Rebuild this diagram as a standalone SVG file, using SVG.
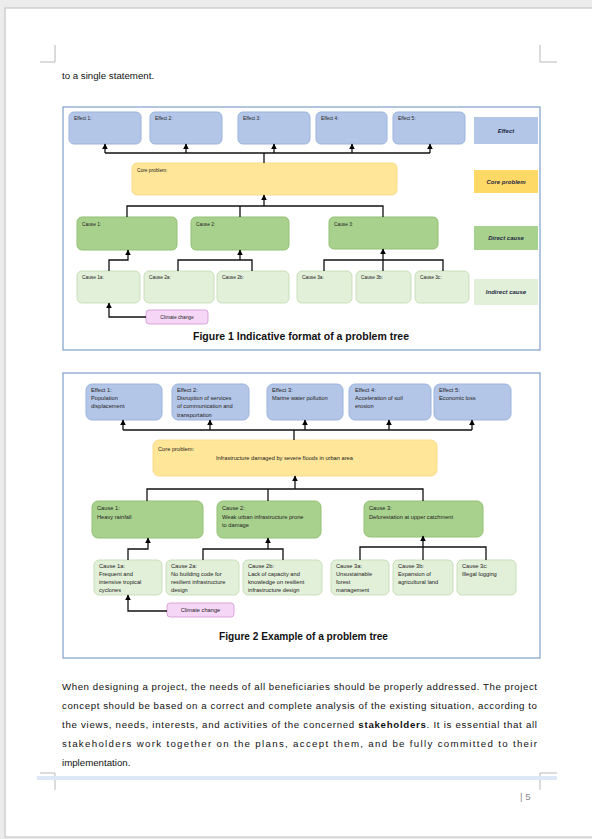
<svg xmlns="http://www.w3.org/2000/svg" width="592" height="839" viewBox="0 0 592 839">
<defs>
<marker id="ah" viewBox="0 0 10 10" refX="9" refY="5" markerWidth="4.4" markerHeight="4.4" orient="auto-start-reverse">
<path d="M0,0 L10,5 L0,10 z" fill="#000"/>
</marker>
<style>
.pg{fill:#fff;stroke:#d0d0d0;stroke-width:1.5}
.frame{fill:#fff;stroke:#7f9fc8;stroke-width:1.2}
.eff{fill:#b4c6e7;stroke:#9bb3db;stroke-width:1}
.core{fill:#ffe699;stroke:#fbdc8a;stroke-width:1}
.dir{fill:#a9d18e;stroke:#93c074;stroke-width:1}
.ind{fill:#e2efd9;stroke:#c9dfba;stroke-width:1}
.cc{fill:#f6d6f6;stroke:#d9a6d9;stroke-width:1}
.c{fill:none;stroke:#111;stroke-width:1.3}
.a{fill:none;stroke:#111;stroke-width:1.3;marker-end:url(#ah)}
.t1{font-family:"Liberation Sans",Arial,sans-serif;font-size:4.8px;fill:#222}
.t2{font-family:"Liberation Sans",Arial,sans-serif;font-size:5.7px;fill:#222}
.lg{font-family:"Liberation Sans",Arial,sans-serif;font-size:6px;font-weight:bold;font-style:italic;fill:#1f2a44;text-anchor:middle}
.cap{font-family:"Liberation Sans",Arial,sans-serif;font-size:10px;font-weight:bold;fill:#111}
.body{font-family:"Liberation Sans",Arial,sans-serif;font-size:9.7px;fill:#111}
.mk{fill:none;stroke:#b8b8b8;stroke-width:1}
</style>
</defs>
<rect x="0" y="0" width="592" height="839" fill="#ececec"/>
<rect class="pg" x="5" y="8" width="590" height="829"/>
<path class="mk" d="M40,62 H55 V45 M540,45 V62 H557 M40,773 H55 V790 M540,790 V773 H557"/>
<rect x="37" y="776" width="520" height="4" fill="#dce8f5"/>
<text class="body" x="520" y="800" style="fill:#888">| 5</text>
<text class="body" x="62" y="79">to a single statement.</text>

<!-- Figure 1 -->
<rect class="frame" x="63" y="107" width="477" height="243"/>
<g id="f1-e1"><rect class="eff" x="69" y="112" width="72" height="32" rx="5"/><text class="t1" x="74" y="120">Effect 1:</text></g>
<g id="f1-e2"><rect class="eff" x="150" y="112" width="72" height="32" rx="5"/><text class="t1" x="155" y="120">Effect 2:</text></g>
<g id="f1-e3"><rect class="eff" x="238" y="112" width="72" height="32" rx="5"/><text class="t1" x="243" y="120">Effect 3:</text></g>
<g id="f1-e4"><rect class="eff" x="316" y="112" width="71" height="32" rx="5"/><text class="t1" x="321" y="120">Effect 4:</text></g>
<g id="f1-e5"><rect class="eff" x="393" y="112" width="72" height="32" rx="5"/><text class="t1" x="398" y="120">Effect 5:</text></g>
<g id="f1-core"><rect class="core" x="132" y="163" width="265" height="32" rx="5"/><text class="t1" x="137" y="172">Core problem:</text></g>
<g id="f1-c1"><rect class="dir" x="77" y="217" width="100" height="33" rx="5"/><text class="t1" x="82" y="226">Cause 1:</text></g>
<g id="f1-c2"><rect class="dir" x="191" y="217" width="98" height="33" rx="5"/><text class="t1" x="196" y="226">Cause 2:</text></g>
<g id="f1-c3"><rect class="dir" x="329" y="217" width="109" height="32" rx="5"/><text class="t1" x="334" y="226">Cause 3:</text></g>
<g id="f1-c1a"><rect class="ind" x="77" y="271" width="63" height="32" rx="5"/><text class="t1" x="82" y="279">Cause 1a:</text></g>
<g id="f1-c2a"><rect class="ind" x="144" y="271" width="70" height="32" rx="5"/><text class="t1" x="149" y="279">Cause 2a:</text></g>
<g id="f1-c2b"><rect class="ind" x="217" y="271" width="72" height="32" rx="5"/><text class="t1" x="222" y="279">Cause 2b:</text></g>
<g id="f1-c3a"><rect class="ind" x="297" y="271" width="55" height="32" rx="5"/><text class="t1" x="302" y="279">Cause 3a:</text></g>
<g id="f1-c3b"><rect class="ind" x="356" y="271" width="55" height="32" rx="5"/><text class="t1" x="361" y="279">Cause 3b:</text></g>
<g id="f1-c3c"><rect class="ind" x="415" y="271" width="54" height="32" rx="5"/><text class="t1" x="420" y="279">Cause 3c:</text></g>
<g id="f1-cc"><rect class="cc" x="146" y="310" width="62" height="14" rx="3"/><text class="t1" x="177" y="318.7" text-anchor="middle">Climate change</text></g>
<g id="f1-legend">
<rect x="474" y="117" width="64" height="27" fill="#b4c6e7"/><text class="lg" x="506" y="132.5">Effect</text>
<rect x="474" y="170" width="64" height="23" fill="#ffd966"/><text class="lg" x="506" y="183.5">Core problem</text>
<rect x="474" y="226" width="64" height="24" fill="#a9d18e"/><text class="lg" x="506" y="240">Direct cause</text>
<rect x="474" y="279" width="64" height="26" fill="#e2efd9"/><text class="lg" x="506" y="294">Indirect cause</text>
</g>
<g id="f1-connectors">
<path class="c" d="M105,153 H430 M264,153 V163"/>
<path class="a" d="M105,153 V144"/><path class="a" d="M186,153 V144"/><path class="a" d="M274,153 V144"/><path class="a" d="M352,153 V144"/><path class="a" d="M430,153 V144"/>
<path class="a" d="M264,206 V195"/>
<path class="c" d="M127,217 V206 H383 V217 M240,206 V217"/>
<path class="a" d="M109,271 V260 H128 V250"/>
<path class="c" d="M178,271 V260 H252 V271"/><path class="a" d="M240,260 V250"/>
<path class="c" d="M324,271 V260 H443 V271"/><path class="a" d="M383,271 V249"/>
<path class="a" d="M146,317 H109 V303"/>
</g>
<text class="cap" x="193" y="340" textLength="216" lengthAdjust="spacingAndGlyphs">Figure 1 Indicative format of a problem tree</text>

<!-- Figure 2 -->
<rect class="frame" x="63" y="373" width="477" height="285"/>
<g id="f2-e1"><rect class="eff" x="86" y="384" width="76" height="36" rx="6"/><text class="t2" x="91" y="392">Effect 1:<tspan x="91" dy="8.2">Population</tspan><tspan x="91" dy="8.2">displacement</tspan></text></g>
<g id="f2-e2"><rect class="eff" x="172" y="384" width="77" height="36" rx="6"/><text class="t2" x="177" y="392">Effect 2:<tspan x="177" dy="8.2">Disruption of services</tspan><tspan x="177" dy="8.2">of communication and</tspan><tspan x="177" dy="8.2">transportation</tspan></text></g>
<g id="f2-e3"><rect class="eff" x="267" y="384" width="76" height="36" rx="6"/><text class="t2" x="272" y="392">Effect 3:<tspan x="272" dy="8.2">Marine water pollution</tspan></text></g>
<g id="f2-e4"><rect class="eff" x="349" y="384" width="82" height="36" rx="6"/><text class="t2" x="355" y="392">Effect 4:<tspan x="355" dy="8.2">Acceleration of soil</tspan><tspan x="355" dy="8.2">erosion</tspan></text></g>
<g id="f2-e5"><rect class="eff" x="434" y="384" width="77" height="36" rx="6"/><text class="t2" x="439" y="392">Effect 5:<tspan x="439" dy="8.2">Economic loss</tspan></text></g>
<g id="f2-core"><rect class="core" x="153" y="440" width="284" height="36" rx="6"/><text class="t2" x="158" y="451">Core problem:</text><text class="t2" x="216" y="459.5">Infrastructure damaged by severe floods in urban area</text></g>
<g id="f2-c1"><rect class="dir" x="92" y="501" width="111" height="37" rx="6"/><text class="t2" x="97" y="510">Cause 1:<tspan x="97" dy="8.5">Heavy rainfall</tspan></text></g>
<g id="f2-c2"><rect class="dir" x="217" y="501" width="104" height="37" rx="6"/><text class="t2" x="222" y="510">Cause 2:<tspan x="222" dy="8.5">Weak urban infrastructure prone</tspan><tspan x="222" dy="8.5">to damage</tspan></text></g>
<g id="f2-c3"><rect class="dir" x="364" y="501" width="119" height="36" rx="6"/><text class="t2" x="369" y="510">Cause 3:<tspan x="369" dy="8.5">Deforestation at upper catchment</tspan></text></g>
<g id="f2-c1a"><rect class="ind" x="94" y="560" width="68" height="35" rx="5"/><text class="t2" x="99" y="568">Cause 1a:<tspan x="99" dy="8">Frequent and</tspan><tspan x="99" dy="8">intensive tropical</tspan><tspan x="99" dy="8">cyclones</tspan></text></g>
<g id="f2-c2a"><rect class="ind" x="166" y="560" width="73" height="35" rx="5"/><text class="t2" x="171" y="568">Cause 2a:<tspan x="171" dy="8">No building code for</tspan><tspan x="171" dy="8">resilient infrastructure</tspan><tspan x="171" dy="8">design</tspan></text></g>
<g id="f2-c2b"><rect class="ind" x="243" y="560" width="79" height="35" rx="5"/><text class="t2" x="248" y="568">Cause 2b:<tspan x="248" dy="8">Lack of capacity and</tspan><tspan x="248" dy="8">knowledge on resilient</tspan><tspan x="248" dy="8">infrastructure design</tspan></text></g>
<g id="f2-c3a"><rect class="ind" x="331" y="560" width="58" height="35" rx="5"/><text class="t2" x="336" y="568">Cause 3a:<tspan x="336" dy="8">Unsustainable</tspan><tspan x="336" dy="8">forest</tspan><tspan x="336" dy="8">management</tspan></text></g>
<g id="f2-c3b"><rect class="ind" x="393" y="560" width="60" height="35" rx="5"/><text class="t2" x="398" y="568">Cause 3b:<tspan x="398" dy="8">Expansion of</tspan><tspan x="398" dy="8">agricultural land</tspan></text></g>
<g id="f2-c3c"><rect class="ind" x="457" y="560" width="59" height="35" rx="5"/><text class="t2" x="462" y="568">Cause 3c:<tspan x="462" dy="8">Illegal logging</tspan></text></g>
<g id="f2-cc"><rect class="cc" x="167" y="603" width="67" height="14" rx="3"/><text class="t2" x="200.5" y="612" text-anchor="middle">Climate change</text></g>
<g id="f2-connectors">
<path class="c" d="M123,430 H472 M294,430 V440"/>
<path class="a" d="M123,430 V420"/><path class="a" d="M210,430 V420"/><path class="a" d="M305,430 V420"/><path class="a" d="M389,430 V420"/><path class="a" d="M472,430 V420"/>
<path class="a" d="M295,489 V476"/>
<path class="c" d="M147,501 V489 H423 V501 M268,489 V501"/>
<path class="a" d="M128,560 V549 H148 V538"/>
<path class="c" d="M203,560 V549 H283 V560"/><path class="a" d="M268,549 V538"/>
<path class="c" d="M360,560 V547 H486 V560"/><path class="a" d="M423,560 V536"/>
<path class="a" d="M167,611 H128 V595"/>
</g>
<text class="cap" x="219" y="640" textLength="169" lengthAdjust="spacingAndGlyphs">Figure 2 Example of a problem tree</text>

<!-- Body text -->
<text class="body" x="62" y="690" textLength="475" lengthAdjust="spacing">When designing a project, the needs of all beneficiaries should be properly addressed. The project</text>
<text class="body" x="62" y="709" textLength="475" lengthAdjust="spacing">concept should be based on a correct and complete analysis of the existing situation, according to</text>
<text class="body" x="62" y="728" textLength="475" lengthAdjust="spacing">the views, needs, interests, and activities of the concerned <tspan font-weight="bold">stakeholders</tspan>. It is essential that all</text>
<text class="body" x="62" y="747" textLength="475" lengthAdjust="spacing">stakeholders work together on the plans, accept them, and be fully committed to their</text>
<text class="body" x="62" y="766">implementation.</text>
</svg>
